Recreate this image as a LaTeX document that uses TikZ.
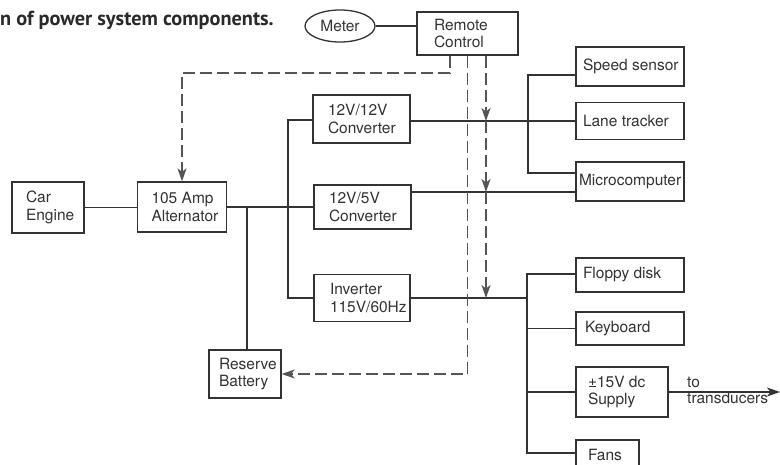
\documentclass[tikz,border=0pt]{standalone}
\usepackage{fontspec}
\setmainfont{TeX Gyre Heros}
\newfontfamily\titlefont{PT Sans}
\usetikzlibrary{shapes.geometric,arrows.meta,calc}
\definecolor{ink}{HTML}{333333}
\definecolor{dashink}{HTML}{555555}
\definecolor{titleink}{HTML}{2A2A2A}
\newcommand{\oneline}[1]{\mbox{#1}}
\begin{document}
\begin{tikzpicture}[x=1pt,y=-1pt,
  box/.style={draw=ink, line width=1.3pt, align=flush left, inner ysep=0pt, text=ink,
              font=\fontsize{15.5}{17.5}\selectfont},
  wire/.style={draw=ink, line width=1.3pt},
  ctrl/.style={draw=dashink, line width=1.3pt, dash pattern=on 12pt off 5pt},
  tip/.style={-{Stealth[length=13pt,width=9pt,inset=3.5pt]}},
  lbl/.style={inner sep=0pt, text=ink, font=\fontsize{15.5}{17.5}\selectfont},
]
\clip (0,0) rectangle (780,464);
\fill[white] (0,0) rectangle (780,464);

% title
\node[anchor=base west, inner sep=0pt, text=titleink,
      font=\titlefont\bfseries\fontsize{20.3}{24}\selectfont] (title) at (0,25)
      {n of power system components.};

% nodes
\node[box, ellipse, minimum width=70pt, minimum height=32pt, inner sep=0pt, align=center] (meter) at (340,26) {Meter};
\node[box, minimum height=43pt, text width=67pt, inner xsep=17pt] (rc) at (467.5,33.5) {\oneline{Remote}\\\oneline{Control}};
\node[box, minimum height=51pt, text width=44pt, inner xsep=14pt] (eng) at (48,207.5) {\oneline{Car}\\\oneline{Engine}};
\node[box, minimum height=50pt, text width=61pt, inner xsep=14pt] (alt) at (182,207) {\oneline{105 Amp}\\\oneline{Alternator}};
\node[box, minimum height=48pt, text width=67pt, inner xsep=15pt] (conv1) at (361.5,119) {\oneline{12V/12V}\\\oneline{Converter}};
\node[box, minimum height=44pt, text width=67pt, inner xsep=15pt] (conv2) at (362.5,207) {\oneline{12V/5V}\\\oneline{Converter}};
\node[box, minimum height=47pt, text width=64pt, inner xsep=16pt] (inv) at (362,298) {\oneline{Inverter}\\\oneline{115V/60Hz}};
\node[box, minimum height=48pt, text width=52pt, inner xsep=10pt] (batt) at (245,374) {\oneline{Reserve}\\\oneline{Battery}};
\node[box, minimum height=39pt, text width=94pt, inner xsep=7pt] (speed) at (630,66.5) {\oneline{Speed sensor}};
\node[box, minimum height=37pt, text width=94pt, inner xsep=7pt] (lane) at (630,121) {\oneline{Lane tracker}};
\node[box, minimum height=39pt, text width=102pt, inner xsep=3pt] (micro) at (630,181.5) {\oneline{Microcomputer}};
\node[box, minimum height=34pt, text width=94pt, inner xsep=7pt] (floppy) at (630,275) {\oneline{Floppy disk}};
\node[box, minimum height=33pt, text width=90pt, inner xsep=9pt] (keyb) at (630,328.5) {\oneline{Keyboard}};
\node[box, minimum height=50pt, text width=68pt, inner xsep=12pt] (supply) at (622,392) {\oneline{±15V dc}\\\oneline{Supply}};
\node[box, minimum height=30pt, text width=39pt, inner xsep=12pt] (fans) at (607.5,455) {\oneline{Fans}};

\node[lbl, anchor=west] (to) at (687,382) {to};
\node[lbl, anchor=west] (trans) at (687,398) {transducers};

% helper coordinates
\coordinate (bL) at (288,120);
\coordinate (bJ) at (247,207);
\coordinate (y192) at (0,192);
\coordinate (r1a) at (528,75);
\coordinate (r1b) at (528,173);
\coordinate (r2a) at (527,274);
\coordinate (r2b) at (527,453);
\coordinate (xA) at (450,73);
\coordinate (xB) at (486,0);
\coordinate (out) at (780,0);

% solid wiring
\draw[wire] (meter.east) -- (rc.west |- meter.east);
\draw[wire] (eng.east) -- (alt.west |- eng.east);
\draw[wire] (alt.east) -- (conv2.west);
\draw[wire] (bL -| conv1.west) -- (bL) |- (inv.west);
\draw[wire] (bJ) -- (bJ |- batt.north);
\draw[wire] (conv1.east |- lane.west) -- (lane.west);
\draw[wire] (conv2.east |- y192) -- (micro.west |- y192);
\draw[wire] (r1a -| speed.west) -- (r1a) -- (r1b) -- (r1b -| micro.west);
\draw[wire] (inv.east) -- (inv.east -| r2a);
\draw[wire] (r2a -| floppy.west) -- (r2a) -- (r2b) -- (r2b -| fans.west);
\draw[wire] (keyb.west -| r2a) -- (keyb.west);
\draw[wire] (supply.west -| r2a) -- (supply.west);
\draw[wire, tip] (supply.east) -- (supply.east -| out);

% control (dashed)
\draw[ctrl, tip] (rc.south -| xA) -- (xA) -| (alt.north);
\draw[ctrl, tip] (rc.south) |- (batt.east);
\draw[ctrl, tip] (rc.south -| xB) -- (xB |- lane.west);
\draw[ctrl, tip] (xB |- lane.west) -- (xB |- y192);
\draw[ctrl, tip] (xB |- y192) -- (xB |- inv.east);
\end{tikzpicture}
\end{document}
